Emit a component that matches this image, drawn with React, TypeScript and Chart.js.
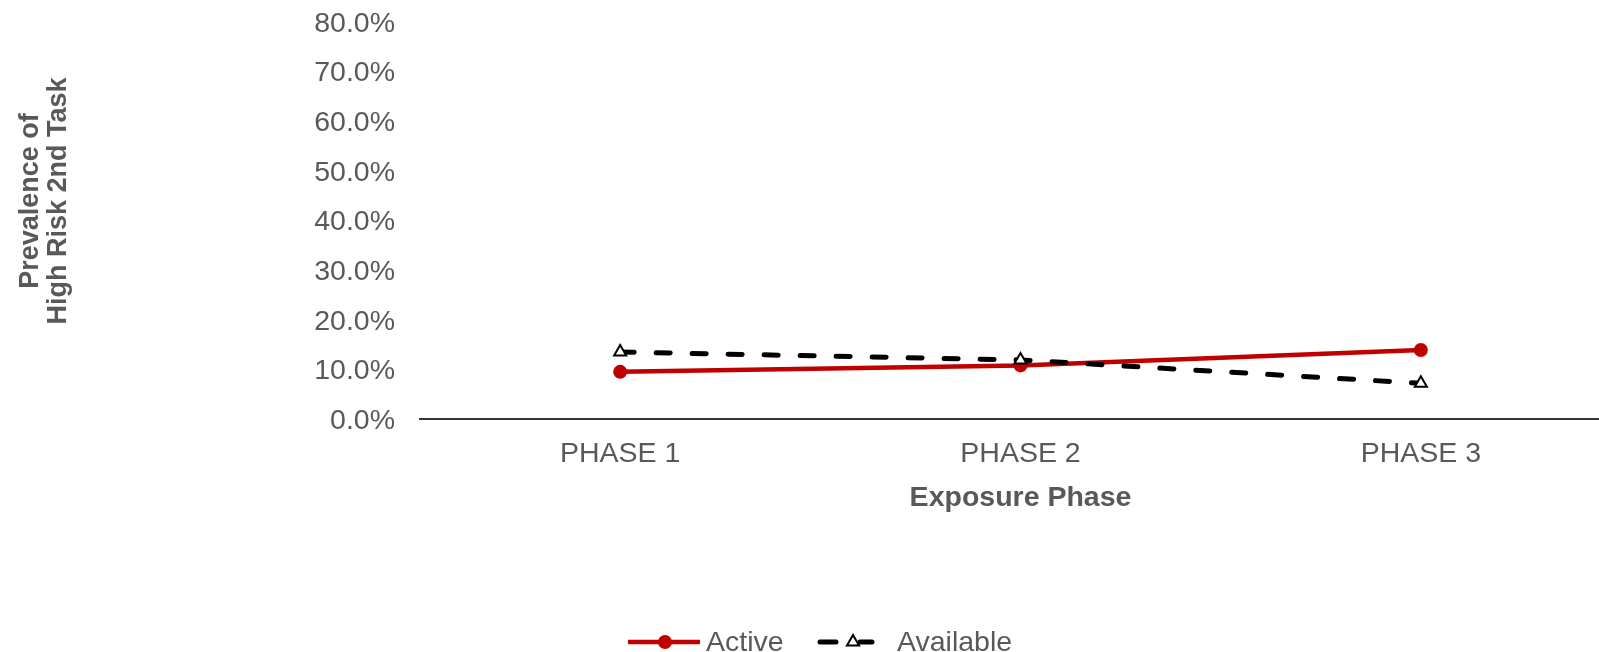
import React, { useEffect, useRef } from "react";
import { Chart, registerables } from "chart.js";

Chart.register(...registerables);

// Series data
const categories = ["PHASE 1", "PHASE 2", "PHASE 3"];
const activeValues = [0.095, 0.108, 0.139];
const availableValues = [0.135, 0.119, 0.072];
const yTickValues = [0, 0.1, 0.2, 0.3, 0.4, 0.5, 0.6, 0.7, 0.8];
const seriesNames = ["Active", "Available"];
const xTitle = "Exposure Phase";
const yTitleLines = ["Prevalence of", "High Risk 2nd Task"];

const FONT = "'Liberation Sans', Arial, sans-serif";
const GRAY = "#595959";
const RED = "#C00000";

// Axis titles and the line-and-marker legend are painted directly on the canvas
const decorations = {
  id: "decorations",
  afterDraw(chart: Chart) {
    const ctx = chart.ctx;
    const area = chart.chartArea;
    ctx.save();
    ctx.fillStyle = GRAY;

    // Y axis title (two centred lines, rotated)
    ctx.font = `bold 27px ${FONT}`;
    ctx.textAlign = "center";
    ctx.textBaseline = "alphabetic";
    ctx.save();
    ctx.rotate(-Math.PI / 2);
    const midY = 201;
    ctx.fillText(yTitleLines[0], -midY, 38);
    ctx.fillText(yTitleLines[1], -midY, 66);
    ctx.restore();

    // X axis title
    ctx.font = `bold 28.5px ${FONT}`;
    ctx.fillText(xTitle, (area.left + area.right) / 2, 506);

    // Legend
    const ly = 642;
    ctx.lineCap = "butt";
    ctx.strokeStyle = RED;
    ctx.lineWidth = 4.5;
    ctx.beginPath();
    ctx.moveTo(628, ly);
    ctx.lineTo(700, ly);
    ctx.stroke();
    ctx.fillStyle = RED;
    ctx.beginPath();
    ctx.arc(665, ly, 7, 0, Math.PI * 2);
    ctx.fill();

    ctx.strokeStyle = "#000";
    ctx.lineWidth = 5;
    ctx.lineCap = "round";
    ctx.beginPath();
    ctx.moveTo(820, ly);
    ctx.lineTo(836, ly);
    ctx.moveTo(860, ly);
    ctx.lineTo(872, ly);
    ctx.stroke();
    // triangle marker
    const tr = 7;
    ctx.lineCap = "butt";
    ctx.lineWidth = 2;
    ctx.fillStyle = "#fff";
    ctx.beginPath();
    ctx.moveTo(853, ly - tr);
    ctx.lineTo(853 + tr * 0.866, ly + tr / 2);
    ctx.lineTo(853 - tr * 0.866, ly + tr / 2);
    ctx.closePath();
    ctx.fill();
    ctx.stroke();

    ctx.fillStyle = GRAY;
    ctx.font = `28.5px ${FONT}`;
    ctx.textAlign = "left";
    ctx.textBaseline = "alphabetic";
    ctx.fillText(seriesNames[0], 706, 651);
    ctx.fillText(seriesNames[1], 897, 651);
    ctx.restore();
  },
};

export default function App() {
  const canvasRef = useRef<HTMLCanvasElement | null>(null);

  useEffect(() => {
    document.body.style.margin = "0";
    const canvas = canvasRef.current;
    if (!canvas) return;
    const chart = new Chart(canvas, {
      type: "line",
      data: {
        labels: categories,
        datasets: [
          {
            label: seriesNames[0],
            data: activeValues,
            borderColor: RED,
            backgroundColor: RED,
            borderWidth: 4.5,
            pointStyle: "circle",
            pointRadius: 7,
            pointBackgroundColor: RED,
            pointBorderColor: RED,
            pointBorderWidth: 0,
            tension: 0,
            order: 2,
          },
          {
            label: seriesNames[1],
            data: availableValues,
            borderColor: "#000",
            backgroundColor: "#fff",
            borderWidth: 5,
            borderDash: [14, 22],
            borderCapStyle: "round",
            pointStyle: "triangle",
            pointRadius: 7,
            pointBackgroundColor: "#fff",
            pointBorderColor: "#000",
            pointBorderWidth: 2,
            tension: 0,
            order: 1,
          },
        ],
      },
      options: {
        responsive: false,
        animation: false,
        events: [],
        layout: { autoPadding: false, padding: { top: 22, left: 0, right: 0, bottom: 0 } },
        plugins: {
          legend: { display: false },
          tooltip: { enabled: false },
          title: { display: false },
        },
        scales: {
          x: {
            type: "category",
            offset: true,
            grid: { display: false, drawTicks: false },
            border: { display: true, color: "#333", width: 2 },
            ticks: {
              color: GRAY,
              font: { family: FONT, size: 28.5 },
              padding: 18,
              maxRotation: 0,
            },
            afterFit(scale: any) {
              scale.height = 233;
            },
          },
          y: {
            min: 0,
            max: 0.8,
            grid: { display: false, drawTicks: false },
            border: { display: false },
            afterBuildTicks(scale: any) {
              scale.ticks = yTickValues.map((v) => ({ value: v }));
            },
            ticks: {
              color: GRAY,
              font: { family: FONT, size: 28.5 },
              padding: 25,
              labelOffset: 2,
              callback: (v: any) => (Number(v) * 100).toFixed(1) + "%",
            },
            afterFit(scale: any) {
              scale.width = 420;
              scale.paddingTop = 0;
              scale.paddingBottom = 0;
            },
          },
        },
      },
      plugins: [decorations],
    });
    return () => chart.destroy();
  }, []);

  return (
    <div
      style={{
        position: "fixed",
        left: 0,
        top: 0,
        width: 1599,
        height: 652,
        overflow: "hidden",
        background: "#fff",
      }}
    >
      <canvas ref={canvasRef} width={1621} height={652} style={{ display: "block" }} />
    </div>
  );
}
